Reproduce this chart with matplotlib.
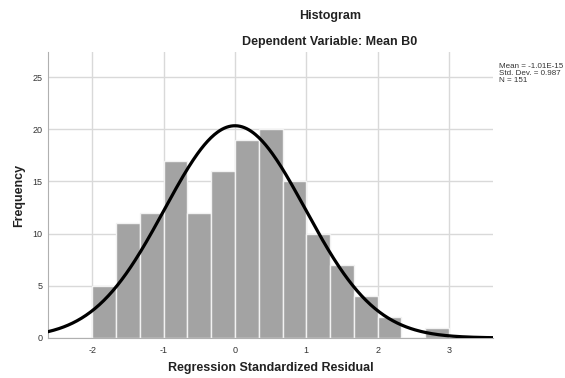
import numpy as np
import matplotlib
matplotlib.use("Agg")
import matplotlib.pyplot as plt

plt.rcParams["font.family"] = ["Liberation Sans", "DejaVu Sans"]
plt.rcParams["axes.unicode_minus"] = False

# histogram bins (width 1/3, starting at -2) and counts
bin_start = -2.0
bin_width = 1.0 / 3.0
counts = [5, 11, 12, 17, 12, 16, 19, 20, 15, 10, 7, 4, 2, 0, 1]

# fitted normal curve stats (from the legend)
mean = -1.01e-15
std = 0.987
n = 151

edges = bin_start + bin_width * np.arange(len(counts) + 1)

fig = plt.figure(figsize=(5.65, 3.78), dpi=100)
ax = fig.add_axes([0.085, 0.106, 0.788, 0.756])

ax.bar(edges[:-1], counts, width=bin_width, align="edge",
       color="#a3a3a3", edgecolor="#f2f2f2", linewidth=1.0, zorder=2)

xs = np.linspace(-2.62, 3.62, 400)
pdf = np.exp(-0.5 * ((xs - mean) / std) ** 2) / (std * np.sqrt(2 * np.pi))
ax.plot(xs, n * bin_width * pdf, color="black", lw=2.3, zorder=3)

ax.set_xlim(-2.62, 3.62)
ax.set_ylim(0, 27.4)
ax.set_xticks([-2, -1, 0, 1, 2, 3])
ax.set_yticks([0, 5, 10, 15, 20, 25])
ax.grid(True, color="#d9d9d9", lw=1.0, zorder=0)
ax.set_axisbelow(True)
ax.tick_params(axis="x", length=0, labelsize=6.5, labelcolor="#333333", pad=6)
ax.tick_params(axis="y", length=0, labelsize=6.5, labelcolor="#333333", pad=4)
for s in ["top", "right"]:
    ax.spines[s].set_visible(False)
for s in ["left", "bottom"]:
    ax.spines[s].set_color("#b0b0b0")

ax.set_xlabel("Regression Standardized Residual", fontsize=9,
              fontweight="bold", color="#222222", labelpad=5)
ax.set_ylabel("Frequency", fontsize=9, fontweight="bold",
              color="#222222", labelpad=5)

fig.text(0.584, 0.958, "Histogram", ha="center", va="center",
         fontsize=9, fontweight="bold", color="#222222")
fig.text(0.584, 0.889, "Dependent Variable: Mean B0", ha="center",
         va="center", fontsize=9, fontweight="bold", color="#222222")

fig.text(0.884, 0.806, "Mean = -1.01E-15\nStd. Dev. = 0.987\nN = %d" % n,
         ha="left", va="center", fontsize=5.8, color="#333333",
         linespacing=0.95)

fig.savefig("out.png", dpi=100)
